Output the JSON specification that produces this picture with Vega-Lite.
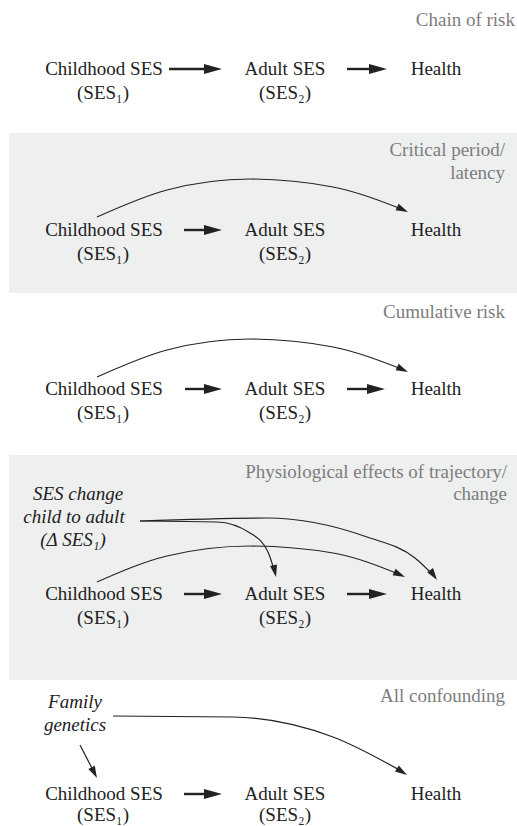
{
  "$schema": "https://vega.github.io/schema/vega-lite/v6.json",
  "width": 517,
  "height": 826,
  "padding": 0,
  "autosize": {"type": "none"},
  "background": "white",
  "config": {"view": {"stroke": null}},
  "datasets": {
    "bands": [
      {"x": 9, "x2": 517, "y": 133, "y2": 293},
      {"x": 9, "x2": 517, "y": 455, "y2": 680}
    ],
    "shafts": [
      {"x": 169, "x2": 213, "y": 69},
      {"x": 347, "x2": 378, "y": 69},
      {"x": 184, "x2": 213, "y": 230},
      {"x": 185, "x2": 213, "y": 389},
      {"x": 347, "x2": 376, "y": 389},
      {"x": 184, "x2": 213, "y": 594},
      {"x": 347, "x2": 378, "y": 594},
      {"x": 184, "x2": 213, "y": 794}
    ],
    "heads": [
      {"x": 222, "y": 69},
      {"x": 387, "y": 69},
      {"x": 222, "y": 230},
      {"x": 222, "y": 389},
      {"x": 385, "y": 389},
      {"x": 222, "y": 594},
      {"x": 387, "y": 594},
      {"x": 222, "y": 794}
    ],
    "curves": [
      {"id": "c2", "i": 0, "x": 97, "y": 217},
      {"id": "c2", "i": 1, "x": 167, "y": 190},
      {"id": "c2", "i": 2, "x": 250, "y": 179},
      {"id": "c2", "i": 3, "x": 333, "y": 187},
      {"id": "c2", "i": 4, "x": 404, "y": 210},
      {"id": "c3", "i": 0, "x": 97, "y": 377},
      {"id": "c3", "i": 1, "x": 167, "y": 350},
      {"id": "c3", "i": 2, "x": 250, "y": 339},
      {"id": "c3", "i": 3, "x": 333, "y": 347},
      {"id": "c3", "i": 4, "x": 404, "y": 370},
      {"id": "c4a", "i": 0, "x": 140, "y": 521},
      {"id": "c4a", "i": 1, "x": 217, "y": 522},
      {"id": "c4a", "i": 2, "x": 250, "y": 533},
      {"id": "c4a", "i": 3, "x": 268, "y": 552},
      {"id": "c4a", "i": 4, "x": 275, "y": 573},
      {"id": "c4b", "i": 0, "x": 140, "y": 521},
      {"id": "c4b", "i": 1, "x": 267, "y": 518},
      {"id": "c4b", "i": 2, "x": 367, "y": 537},
      {"id": "c4b", "i": 3, "x": 415, "y": 558},
      {"id": "c4b", "i": 4, "x": 434, "y": 576},
      {"id": "c4c", "i": 0, "x": 97, "y": 582},
      {"id": "c4c", "i": 1, "x": 167, "y": 556},
      {"id": "c4c", "i": 2, "x": 250, "y": 546},
      {"id": "c4c", "i": 3, "x": 333, "y": 553},
      {"id": "c4c", "i": 4, "x": 401, "y": 575},
      {"id": "c5", "i": 0, "x": 113, "y": 716},
      {"id": "c5", "i": 1, "x": 233, "y": 717},
      {"id": "c5", "i": 2, "x": 333, "y": 737},
      {"id": "c5", "i": 3, "x": 403, "y": 772},
      {"id": "fam", "i": 0, "x": 80, "y": 745},
      {"id": "fam", "i": 1, "x": 95, "y": 774}
    ],
    "cheads": [
      {"x": 408, "y": 212, "dir": 25},
      {"x": 408, "y": 372, "dir": 25},
      {"x": 276, "y": 577, "dir": 78},
      {"x": 437, "y": 580, "dir": 55},
      {"x": 405, "y": 577, "dir": 25},
      {"x": 407, "y": 775, "dir": 33},
      {"x": 97, "y": 778, "dir": 63}
    ],
    "nodes": [
      {"t": "Childhood SES", "x": 104, "y": 69},
      {"t": "(SES₁)", "x": 103, "y": 93},
      {"t": "Adult SES", "x": 285, "y": 69},
      {"t": "(SES₂)", "x": 285, "y": 93},
      {"t": "Health", "x": 436, "y": 69},
      {"t": "Childhood SES", "x": 104, "y": 230},
      {"t": "(SES₁)", "x": 103, "y": 254},
      {"t": "Adult SES", "x": 285, "y": 230},
      {"t": "(SES₂)", "x": 285, "y": 254},
      {"t": "Health", "x": 436, "y": 230},
      {"t": "Childhood SES", "x": 104, "y": 389},
      {"t": "(SES₁)", "x": 103, "y": 413},
      {"t": "Adult SES", "x": 285, "y": 389},
      {"t": "(SES₂)", "x": 285, "y": 413},
      {"t": "Health", "x": 436, "y": 389},
      {"t": "Childhood SES", "x": 104, "y": 594},
      {"t": "(SES₁)", "x": 103, "y": 618},
      {"t": "Adult SES", "x": 285, "y": 594},
      {"t": "(SES₂)", "x": 285, "y": 618},
      {"t": "Health", "x": 436, "y": 594},
      {"t": "Childhood SES", "x": 104, "y": 794},
      {"t": "(SES₁)", "x": 103, "y": 815},
      {"t": "Adult SES", "x": 285, "y": 794},
      {"t": "(SES₂)", "x": 285, "y": 815},
      {"t": "Health", "x": 436, "y": 794}
    ],
    "italics": [
      {"t": "SES change", "x": 78, "y": 494},
      {"t": "child to adult", "x": 74, "y": 517},
      {"t": "(Δ SES₁)", "x": 73, "y": 540},
      {"t": "Family", "x": 75, "y": 702},
      {"t": "genetics", "x": 75, "y": 725}
    ],
    "titles": [
      {"t": "Chain of risk", "x": 515, "y": 20},
      {"t": "Critical period/", "x": 505, "y": 150},
      {"t": "latency", "x": 505, "y": 173},
      {"t": "Cumulative risk", "x": 505, "y": 312},
      {"t": "Physiological effects of trajectory/", "x": 507, "y": 472},
      {"t": "change", "x": 507, "y": 494},
      {"t": "All confounding", "x": 505, "y": 696}
    ]
  },
  "layer": [
    {
      "data": {"name": "bands"},
      "mark": {"type": "rect", "color": "#eeefef"},
      "encoding": {
        "x": {"field": "x", "type": "quantitative", "scale": {"domain": [0, 517], "nice": false, "zero": false}, "axis": null},
        "x2": {"field": "x2"},
        "y": {"field": "y", "type": "quantitative", "scale": {"domain": [0, 826], "nice": false, "zero": false, "reverse": true}, "axis": null},
        "y2": {"field": "y2"}
      }
    },
    {
      "data": {"name": "shafts"},
      "mark": {"type": "rule", "color": "#222222", "strokeWidth": 2.4},
      "encoding": {
        "x": {"field": "x", "type": "quantitative"},
        "x2": {"field": "x2"},
        "y": {"field": "y", "type": "quantitative"}
      }
    },
    {
      "data": {"name": "heads"},
      "mark": {"type": "point", "shape": "M0,0L-2,-0.55L-2,0.55Z", "filled": true, "opacity": 1, "color": "#222222", "size": 324, "strokeWidth": 0},
      "encoding": {
        "x": {"field": "x", "type": "quantitative"},
        "y": {"field": "y", "type": "quantitative"}
      }
    },
    {
      "data": {"name": "curves"},
      "mark": {"type": "line", "color": "#222222", "strokeWidth": 1.2, "interpolate": "monotone"},
      "encoding": {
        "x": {"field": "x", "type": "quantitative"},
        "y": {"field": "y", "type": "quantitative"},
        "detail": {"field": "id"},
        "order": {"field": "i", "type": "quantitative"}
      }
    },
    {
      "data": {"name": "cheads"},
      "mark": {"type": "point", "shape": "M0,0L-2,-0.6L-2,0.6Z", "filled": true, "opacity": 1, "color": "#222222", "size": 144, "strokeWidth": 0},
      "encoding": {
        "x": {"field": "x", "type": "quantitative"},
        "y": {"field": "y", "type": "quantitative"},
        "angle": {"field": "dir", "type": "quantitative", "scale": null}
      }
    },
    {
      "data": {"name": "nodes"},
      "mark": {"type": "text", "font": "Liberation Serif, Times New Roman, DejaVu Serif, serif", "fontSize": 19, "color": "#222222", "align": "center", "baseline": "middle"},
      "encoding": {
        "x": {"field": "x", "type": "quantitative"},
        "y": {"field": "y", "type": "quantitative"},
        "text": {"field": "t"}
      }
    },
    {
      "data": {"name": "italics"},
      "mark": {"type": "text", "font": "Liberation Serif, Times New Roman, DejaVu Serif, serif", "fontSize": 19, "fontStyle": "italic", "color": "#222222", "align": "center", "baseline": "middle"},
      "encoding": {
        "x": {"field": "x", "type": "quantitative"},
        "y": {"field": "y", "type": "quantitative"},
        "text": {"field": "t"}
      }
    },
    {
      "data": {"name": "titles"},
      "mark": {"type": "text", "font": "Liberation Serif, Times New Roman, DejaVu Serif, serif", "fontSize": 19, "color": "#7d7d7d", "align": "right", "baseline": "middle"},
      "encoding": {
        "x": {"field": "x", "type": "quantitative"},
        "y": {"field": "y", "type": "quantitative"},
        "text": {"field": "t"}
      }
    }
  ]
}
